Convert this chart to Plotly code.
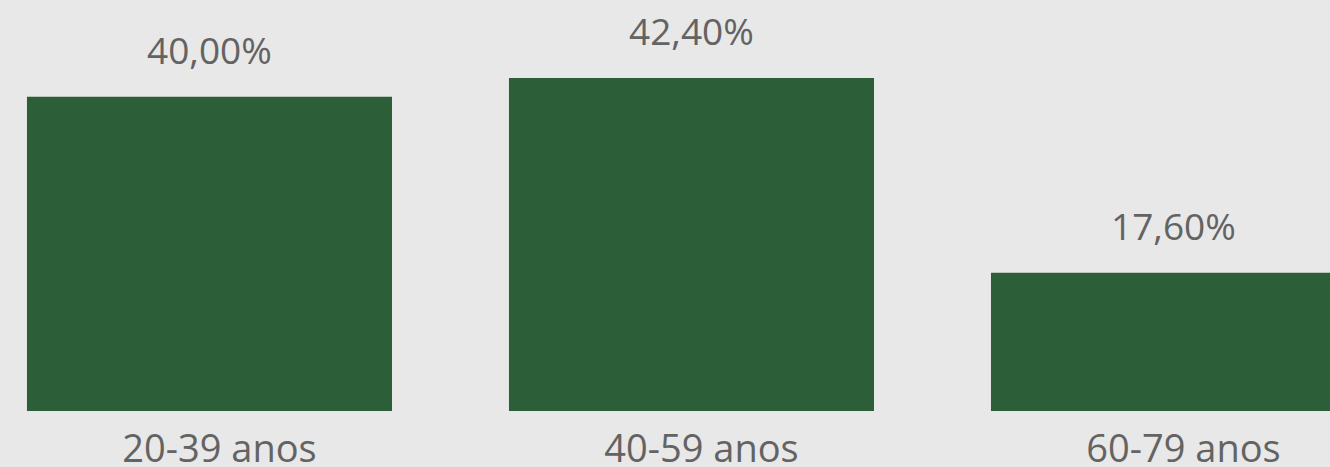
import plotly.graph_objects as go

categories = ["20-39 anos", "40-59 anos", "60-79 anos"]
values = [40.00, 42.40, 17.60]
value_labels = ["40,00%", "42,40%", "17,60%"]

BAR = "#2c5e37"
BG = "#e8e8e8"
TXT = "#636363"
FONT = "Open Sans"

fig = go.Figure()
fig.add_trace(go.Bar(
    x=categories, y=values,
    marker=dict(color=BAR, line=dict(width=0)),
    hoverinfo="skip",
))

for c, v, t in zip(categories, values, value_labels):
    fig.add_annotation(x=c, y=v, text=t, showarrow=False, yanchor="bottom",
                       yshift=20, font=dict(family=FONT, size=37, color=TXT))

fig.update_layout(
    width=1330, height=467,
    margin=dict(l=0, r=0, t=0, b=56, autoexpand=False),
    paper_bgcolor=BG, plot_bgcolor=BG,
    bargap=0.2427,
    showlegend=False,
    xaxis=dict(type="category", range=[-0.4346, 2.3247], showgrid=False,
               zeroline=False, showline=False, ticks="", automargin=False,
               tickfont=dict(family=FONT, size=38, color=TXT),
               ticklabelshift=10, ticklabelstandoff=12),
    yaxis=dict(range=[0, 52.32], visible=False, showgrid=False, zeroline=False,
               automargin=False),
)

fig.write_html("out.html", config={"displayModeBar": False},
               post_script="document.body.style.margin='0';document.body.style.background='#e8e8e8';")
